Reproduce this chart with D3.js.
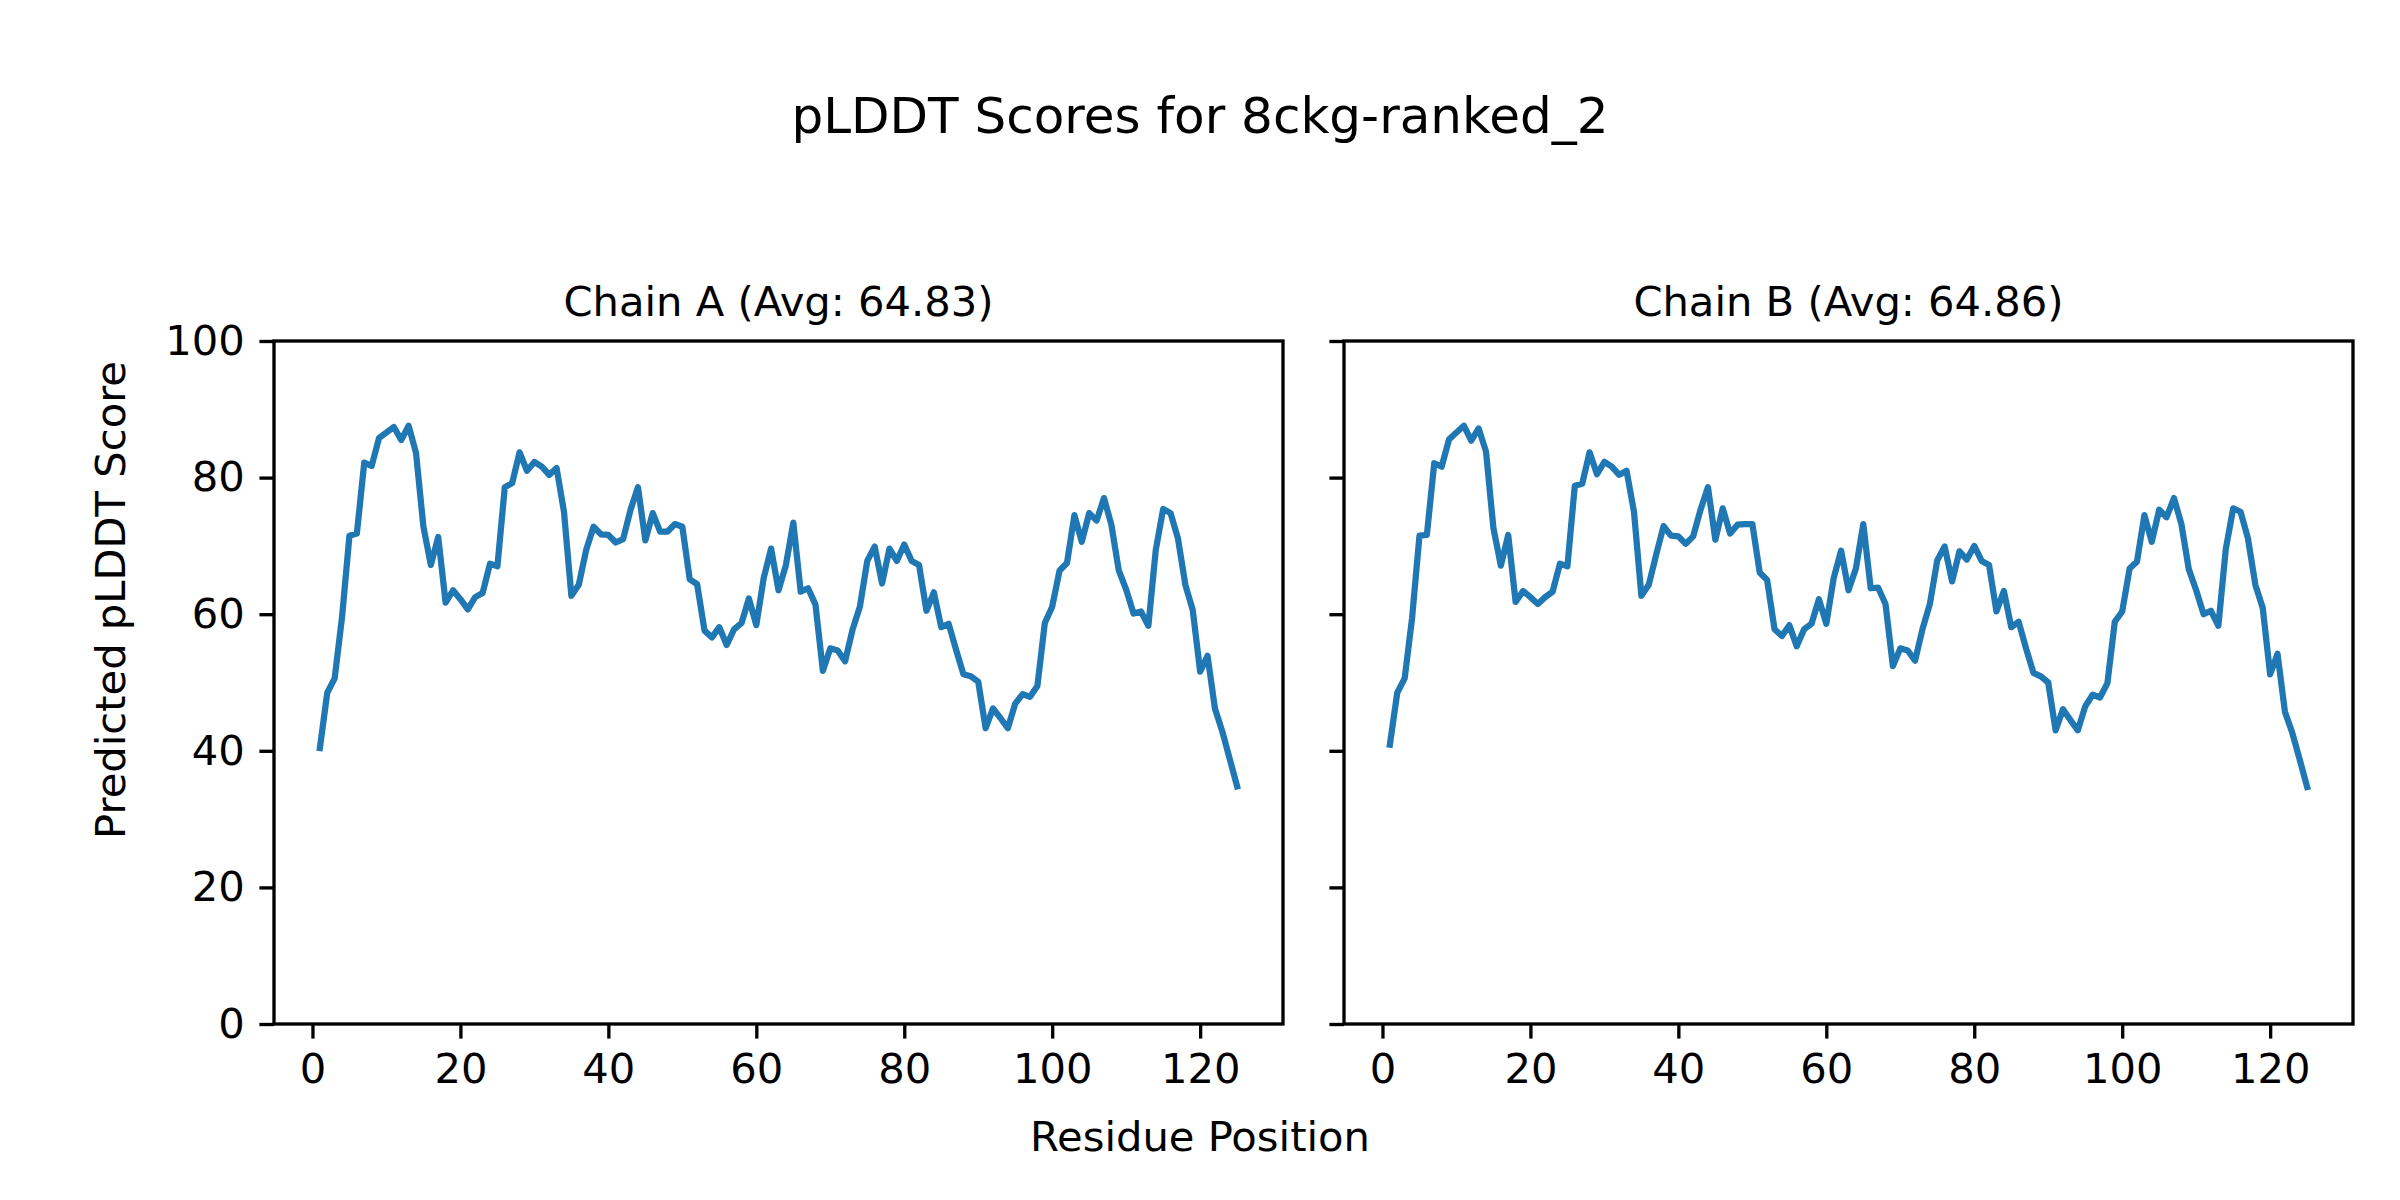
<!DOCTYPE html>
<html>
<head>
<meta charset="utf-8">
<script src="https://cdn.jsdelivr.net/npm/d3@7"></script>
<style>
  body { margin: 0; background: #fff; }
  text { font-family: "DejaVu Sans", sans-serif; fill: #000; }
</style>
</head>
<body>
<div id="chart"></div>
<script>
// Nilai pLDDT per residu
const chainAScores = [
  40.4, 48.5, 50.6, 59.6, 71.5, 71.8, 82.2, 81.7, 85.8, 86.6,
  87.4, 85.5, 87.6, 83.6, 72.8, 67.2, 71.3, 61.7, 63.5, 62.2,
  60.7, 62.5, 63.1, 67.4, 67.0, 78.6, 79.2, 83.7, 81.0, 82.3,
  81.6, 80.4, 81.4, 75.0, 62.7, 64.3, 69.4, 72.8, 71.7, 71.6,
  70.5, 71.0, 75.3, 78.6, 70.8, 74.8, 72.1, 72.1, 73.2, 72.8,
  65.1, 64.4, 57.6, 56.6, 58.1, 55.5, 57.8, 58.7, 62.3, 58.4,
  65.3, 69.6, 63.5, 67.2, 73.4, 63.3, 63.8, 61.4, 51.7, 55.0,
  54.7, 53.1, 57.7, 61.1, 67.8, 69.9, 64.5, 69.6, 67.8, 70.2,
  67.8, 67.2, 60.5, 63.2, 58.1, 58.6, 54.8, 51.2, 50.9, 50.1,
  43.3, 46.2, 44.8, 43.3, 46.9, 48.3, 47.9, 49.5, 58.7, 61.1,
  66.4, 67.5, 74.5, 70.6, 74.8, 73.7, 77.0, 73.1, 66.4, 63.6,
  60.1, 60.4, 58.3, 69.4, 75.4, 74.8, 71.1, 64.3, 60.6, 51.6,
  53.9, 46.2, 42.8, 38.8, 34.8
];

const chainBScores = [
  40.9, 48.5, 50.6, 59.4, 71.5, 71.6, 82.1, 81.6, 85.6, 86.6,
  87.6, 85.4, 87.2, 83.8, 72.6, 67.1, 71.6, 61.8, 63.4, 62.5,
  61.5, 62.5, 63.3, 67.4, 67.0, 78.8, 79.1, 83.7, 80.5, 82.3,
  81.6, 80.4, 81.0, 75.0, 62.7, 64.3, 68.7, 72.9, 71.5, 71.4,
  70.3, 71.4, 75.3, 78.6, 70.9, 75.5, 71.8, 73.1, 73.2, 73.2,
  66.1, 65.0, 57.8, 56.8, 58.4, 55.3, 57.8, 58.6, 62.2, 58.6,
  65.3, 69.3, 63.5, 66.7, 73.2, 63.8, 63.9, 61.5, 52.4, 55.0,
  54.7, 53.2, 57.8, 61.5, 67.9, 69.9, 64.8, 69.2, 68.0, 70.0,
  67.8, 67.2, 60.4, 63.4, 58.1, 58.9, 55.0, 51.4, 50.9, 50.0,
  43.0, 46.1, 44.5, 43.0, 46.5, 48.2, 47.8, 49.9, 58.9, 60.4,
  66.7, 67.7, 74.5, 70.6, 75.3, 74.2, 77.0, 73.2, 66.6, 63.5,
  60.0, 60.5, 58.3, 69.5, 75.5, 75.0, 71.1, 64.3, 60.9, 51.2,
  54.2, 45.7, 42.6, 38.7, 34.7
];

const chainTitles = ["Chain A (Avg: 64.83)", "Chain B (Avg: 64.86)"];
const xTicks = [0, 20, 40, 60, 80, 100, 120];
const yTicks = [0, 20, 40, 60, 80, 100];

// Dimensi gambar dan posisi panel
const width = 2400;
const height = 1200;
const panels = [
  { left: 274, right: 1283, scores: chainAScores, title: chainTitles[0], labels: true },
  { left: 1344, right: 2353, scores: chainBScores, title: chainTitles[1], labels: false }
];
const plotTop = 341;
const plotBottom = 1024;
const lineW = 3.33;   // 0.8pt pada 300 dpi
const tickLen = 14.6;
const fontSize = 41.67;

const svg = d3.select("#chart").append("svg")
  .attr("width", width)
  .attr("height", height);

// Skala Y dipakai bersama oleh kedua panel
const y = d3.scaleLinear().domain([0, 100]).range([plotBottom, plotTop]);

panels.forEach(p => {
  const data = p.scores.map((v, i) => ({ pos: i + 1, score: v }));
  const n = data.length;
  const pad = (n - 1) * 0.05;

  const x = d3.scaleLinear()
    .domain([1 - pad, n + pad])
    .range([p.left, p.right]);

  const g = svg.append("g");

  // Garis skor
  g.append("path")
    .datum(data)
    .attr("fill", "none")
    .attr("stroke", "#1f77b4")
    .attr("stroke-width", 6.25)
    .attr("stroke-linejoin", "round")
    .attr("stroke-linecap", "square")
    .attr("d", d3.line().x(d => x(d.pos)).y(d => y(d.score)));

  // Sumbu X
  const xAxis = g.append("g")
    .attr("transform", `translate(0,${plotBottom})`)
    .call(d3.axisBottom(x).tickValues(xTicks).tickSize(tickLen).tickPadding(tickLen));

  // Sumbu Y
  const yAxis = g.append("g")
    .attr("transform", `translate(${p.left},0)`)
    .call(d3.axisLeft(y).tickValues(yTicks).tickSize(tickLen).tickPadding(tickLen)
      .tickFormat(p.labels ? d3.format("d") : () => ""));

  [xAxis, yAxis].forEach(a => {
    a.select(".domain").remove();
    a.selectAll(".tick line").attr("stroke", "#000").attr("stroke-width", lineW);
    a.selectAll(".tick text")
      .style("font-size", fontSize + "px")
      .style("font-family", "DejaVu Sans");
  });

  // Bingkai panel
  g.append("rect")
    .attr("x", p.left)
    .attr("y", plotTop)
    .attr("width", p.right - p.left)
    .attr("height", plotBottom - plotTop)
    .attr("fill", "none")
    .attr("stroke", "#000")
    .attr("stroke-width", lineW);

  // Judul panel
  g.append("text")
    .attr("x", (p.left + p.right) / 2)
    .attr("y", 316)
    .attr("text-anchor", "middle")
    .style("font-size", fontSize + "px")
    .text(p.title);
});

// Judul utama
svg.append("text")
  .attr("x", width / 2)
  .attr("y", 133)
  .attr("text-anchor", "middle")
  .style("font-size", "50px")
  .text("pLDDT Scores for 8ckg-ranked_2");

// Label sumbu
svg.append("text")
  .attr("x", width / 2)
  .attr("y", 1151)
  .attr("text-anchor", "middle")
  .style("font-size", fontSize + "px")
  .text("Residue Position");

svg.append("text")
  .attr("transform", "translate(125,600) rotate(-90)")
  .attr("text-anchor", "middle")
  .style("font-size", fontSize + "px")
  .text("Predicted pLDDT Score");
</script>
</body>
</html>
